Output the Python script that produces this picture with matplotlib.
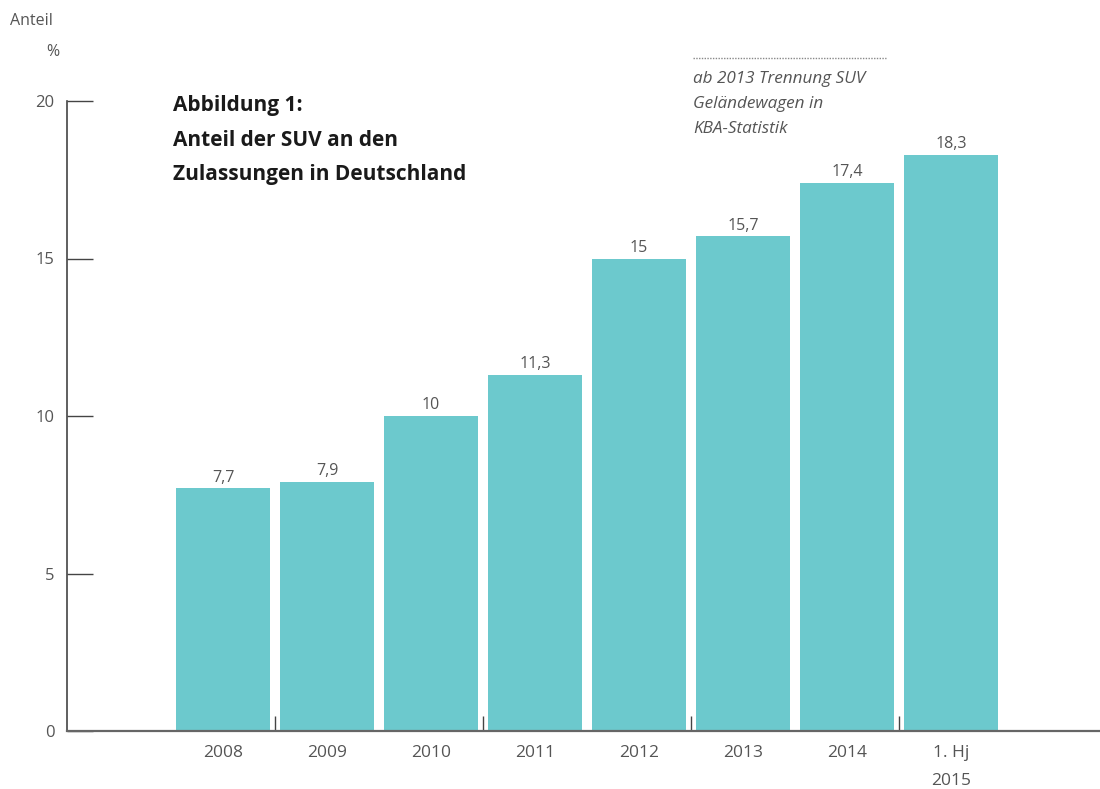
import matplotlib.pyplot as plt

# Data
years = ['2008', '2009', '2010', '2011', '2012', '2013', '2014', '1. Hj\n2015']
share = [7.7, 7.9, 10, 11.3, 15, 15.7, 17.4, 18.3]
y_ticks = [0, 5, 10, 15, 20]

bar_color = '#6cc9cd'
grey = '#555555'

plt.rcParams['font.family'] = ['Open Sans', 'DejaVu Sans']

fig = plt.figure(figsize=(11, 7.89), dpi=100)
ax = fig.add_axes([67 / 1100, 58 / 789, 1033 / 1100, 630 / 789])

x = list(range(len(years)))
ax.bar(x, share, width=0.9, color=bar_color, zorder=2)

# Value labels with German decimal comma
for xi, v in zip(x, share):
    ax.annotate(f'{v:g}'.replace('.', ','), (xi, v), xytext=(0, 2),
                textcoords='offset points', ha='center', va='bottom',
                fontsize=11.5, color=grey)

ax.set_xlim(-1.5, 8.43)
ax.set_ylim(0, 20)

# Axes styling
for s in ['top', 'right']:
    ax.spines[s].set_visible(False)
ax.spines['left'].set_color('#444444')
ax.spines['left'].set_linewidth(1.2)
ax.spines['bottom'].set_color('#666666')
ax.spines['bottom'].set_linewidth(1.6)

ax.set_yticks(y_ticks)
ax.set_yticklabels([str(t) for t in y_ticks], fontsize=12, color=grey)
ax.tick_params(axis='y', direction='in', length=19, width=1.0, color='#444444', pad=9)

ax.set_xticks(x)
ax.set_xticklabels(years, fontsize=12.5, color=grey, linespacing=2.0, va='top')
ax.tick_params(axis='x', which='major', length=0, pad=10)
ax.set_xticks([0.5, 2.5, 4.5, 6.5], minor=True)
ax.tick_params(axis='x', which='minor', direction='in', length=11, width=1.0, color='#444444')

# Axis title
fig.text(10 / 1100, 1 - 21 / 789, 'Anteil', fontsize=11.5, color=grey, va='center', ha='left')
fig.text(53 / 1100, 1 - 52 / 789, '%', fontsize=11.5, color=grey, va='center', ha='center')

# Chart title
ax.text(0.103, 1.0095, 'Abbildung 1:\nAnteil der SUV an den\nZulassungen in Deutschland',
        transform=ax.transAxes, fontsize=15, fontweight='bold', color='#1a1a1a',
        va='top', ha='left', linespacing=1.85)

# Note with dotted rule
fig.lines.append(plt.Line2D([693 / 1100, 886 / 1100], [1 - 58 / 789, 1 - 58 / 789],
                            transform=fig.transFigure, color='#888888', lw=1.0,
                            linestyle=(0, (1, 1))))
fig.text(693 / 1100, 1 - 71 / 789,
         'ab 2013 Trennung SUV\nGeländewagen in\nKBA-Statistik',
         fontsize=12.3, style='italic', color=grey, va='top', ha='left', linespacing=1.75)

fig.savefig('out.png', dpi=100)
